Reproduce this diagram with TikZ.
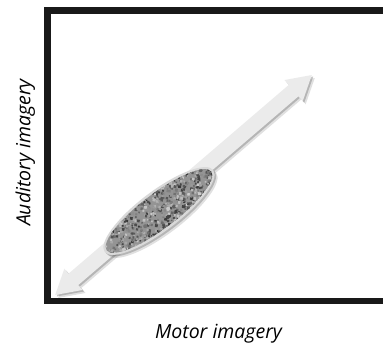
\documentclass[tikz,border=0pt]{standalone}
\usepackage{fontspec}
\setmainfont{Open Sans}
\usetikzlibrary{shadows}

\begin{document}
\begin{tikzpicture}[x=1pt,y=-1pt,
  frame/.style={line width=6.5pt,draw=black!90},
  axislabel/.style={font=\fontsize{19.5}{22}\selectfont\itshape,inner sep=0pt,anchor=base},
  soft shadow/.style={drop shadow={shadow xshift=1.5pt,shadow yshift=-1.5pt,opacity=.3,fill=black!70},
                      drop shadow={shadow xshift=3pt,shadow yshift=-3pt,opacity=.2,fill=black!60}}]
\useasboundingbox (0,0) rectangle (383,345);
\clip (0,0) rectangle (383,345);
\draw[frame] (47.5,10.5) rectangle (420,301);
% diagonal double arrow
\begin{scope}[shift={(183.5,185)},rotate=40.6]
\fill[gray!16,soft shadow] (-169,0) -- (-145,-14) -- (-145,-7.5) -- (145,-7.5) -- (145,-14) -- (169,0)
  -- (145,14) -- (145,7.5) -- (-145,7.5) -- (-145,14) -- cycle;
\end{scope}
% textured cluster
\begin{scope}[shift={(159,211)},rotate=37]
\fill[gray!30,soft shadow] (0,0) ellipse (68 and 20);
\clip (0,0) ellipse (65.5 and 17.5);
\fill[black!42] (0,0) ellipse (65.5 and 17.5);
\pgfmathsetseed{17}
\foreach \i in {1,...,800}{
  \pgfmathsetmacro\px{rnd*134-67}
  \pgfmathsetmacro\py{rnd*38-19}
  \pgfmathsetmacro\g{int(20+rnd*60)}
  \fill[black!\g] (\px,\py) circle (0.9+rnd*1.1);
}
\end{scope}
\node[axislabel] (xlabel) at (218.5,338) {Motor imagery};
\node[axislabel,rotate=90] (ylabel) at (30.5,152.5) {Auditory imagery};
\end{tikzpicture}
\end{document}
